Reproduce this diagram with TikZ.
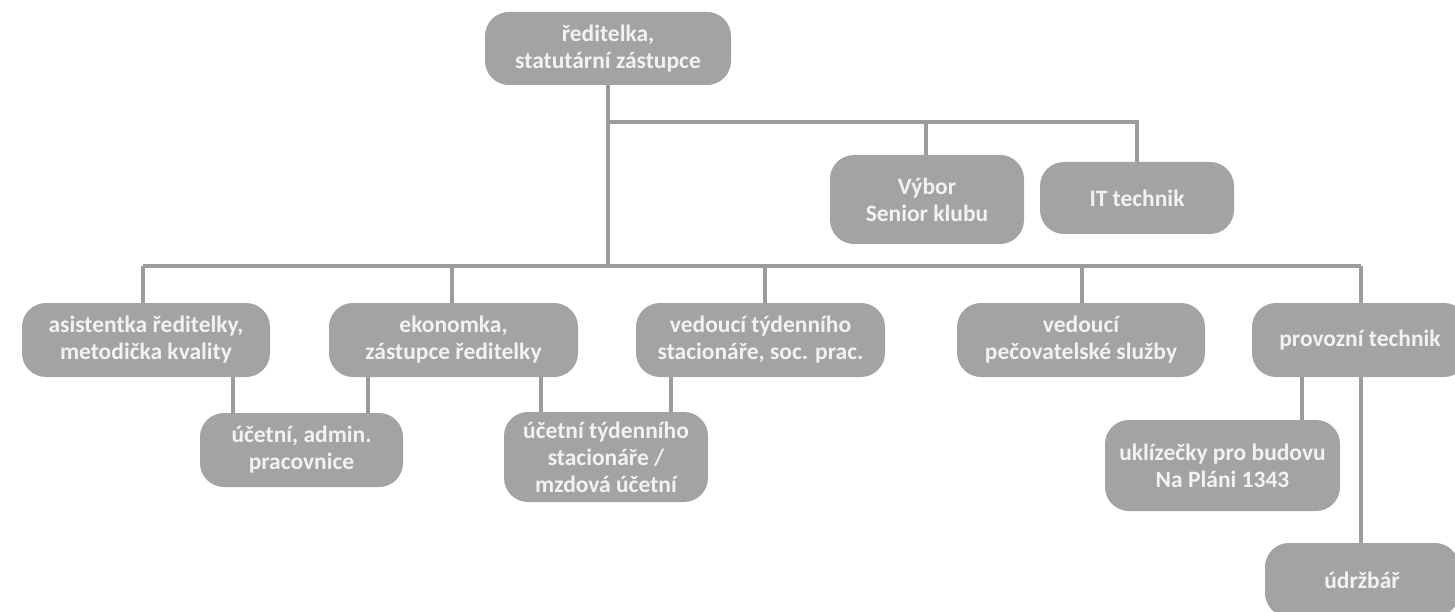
\documentclass[tikz,border=0pt]{standalone}
\usepackage{fontspec}
\setmainfont{Carlito}
\definecolor{boxfill}{HTML}{A3A3A3}
\definecolor{linecol}{HTML}{9C9C9C}
\definecolor{txt}{HTML}{F2F2F2}
\tikzset{
  orgbox/.style={draw=none, fill=boxfill, rounded corners=24pt, align=center,
    text=txt, inner sep=0pt, font=\fontsize{23.5}{27}\selectfont\bfseries},
  conn/.style={draw=linecol, line width=4pt}
}
\begin{document}
\begin{tikzpicture}[x=1pt,y=-1pt]
\useasboundingbox (0,0) rectangle (1455,612);
\begin{scope}
\clip (0,0) rectangle (1455,612);
\coordinate (busA) at (608,122);
\coordinate (busB) at (608,266);
\coordinate (d1) at (143,266);
\coordinate (d2) at (452,266);
\coordinate (d3) at (765,266);
\coordinate (d4) at (1082,266);
\coordinate (d5) at (1361,266);
\coordinate (v1) at (926,122);
\coordinate (v2) at (1137,122);

\node[orgbox, minimum width=246pt, minimum height=73pt] (top) at (608,48.5) {ředitelka,\\statutární zástupce};
\node[orgbox, minimum width=194pt, minimum height=89pt] (vybor) at (927,199.5) {Výbor\\Senior klubu};
\node[orgbox, minimum width=194pt, minimum height=72pt] (it) at (1137,198) {IT technik};
\node[orgbox, minimum width=248pt, minimum height=74pt] (asis) at (146,340) {asistentka ředitelky,\\metodička kvality};
\node[orgbox, minimum width=249pt, minimum height=74pt] (eko) at (453.5,340) {ekonomka,\\zástupce ředitelky};
\node[orgbox, minimum width=249pt, minimum height=74pt] (ved) at (760.5,340) {vedoucí týdenního\\stacionáře, soc. prac.};
\node[orgbox, minimum width=248pt, minimum height=74pt] (pec) at (1081,340) {vedoucí\\pečovatelské služby};
\node[orgbox, minimum width=216pt, minimum height=74pt] (prov) at (1360,340) {provozní technik};
\node[orgbox, minimum width=203pt, minimum height=74pt] (ucA) at (301.5,450) {účetní, admin.\\pracovnice};
\node[orgbox, minimum width=204pt, minimum height=90pt] (ucT) at (606,457) {účetní týdenního\\stacionáře /\\mzdová účetní};
\node[orgbox, minimum width=235pt, minimum height=91pt] (ukl) at (1222.5,465.5) {uklízečky pro budovu\\Na Pláni 1343};
\node[orgbox, minimum width=194pt, minimum height=74pt] (udr) at (1362,580) {údržbář};

\draw[conn] (top.south) -- (busB);
\draw[conn] (busA) -- (v2) -- (it.north -| v2);
\draw[conn] (v1) -- (vybor.north -| v1);
\draw[conn] (d1) -- (d5);
\draw[conn] (d1) -- (asis.north -| d1);
\draw[conn] (d2) -- (eko.north -| d2);
\draw[conn] (d3) -- (ved.north -| d3);
\draw[conn] (d4) -- (pec.north -| d4);
\draw[conn] (d5) -- (prov.north -| d5);
\draw[conn] (asis.south -| 233,0) -- (ucA.north -| 233,0);
\draw[conn] (eko.south -| 368,0) -- (ucA.north -| 368,0);
\draw[conn] (eko.south -| 541,0) -- (ucT.north -| 541,0);
\draw[conn] (ved.south -| 671,0) -- (ucT.north -| 671,0);
\draw[conn] (prov.south -| 1302,0) -- (ukl.north -| 1302,0);
\draw[conn] (prov.south -| d5) -- (udr.north -| d5);
\end{scope}
\end{tikzpicture}
\end{document}
